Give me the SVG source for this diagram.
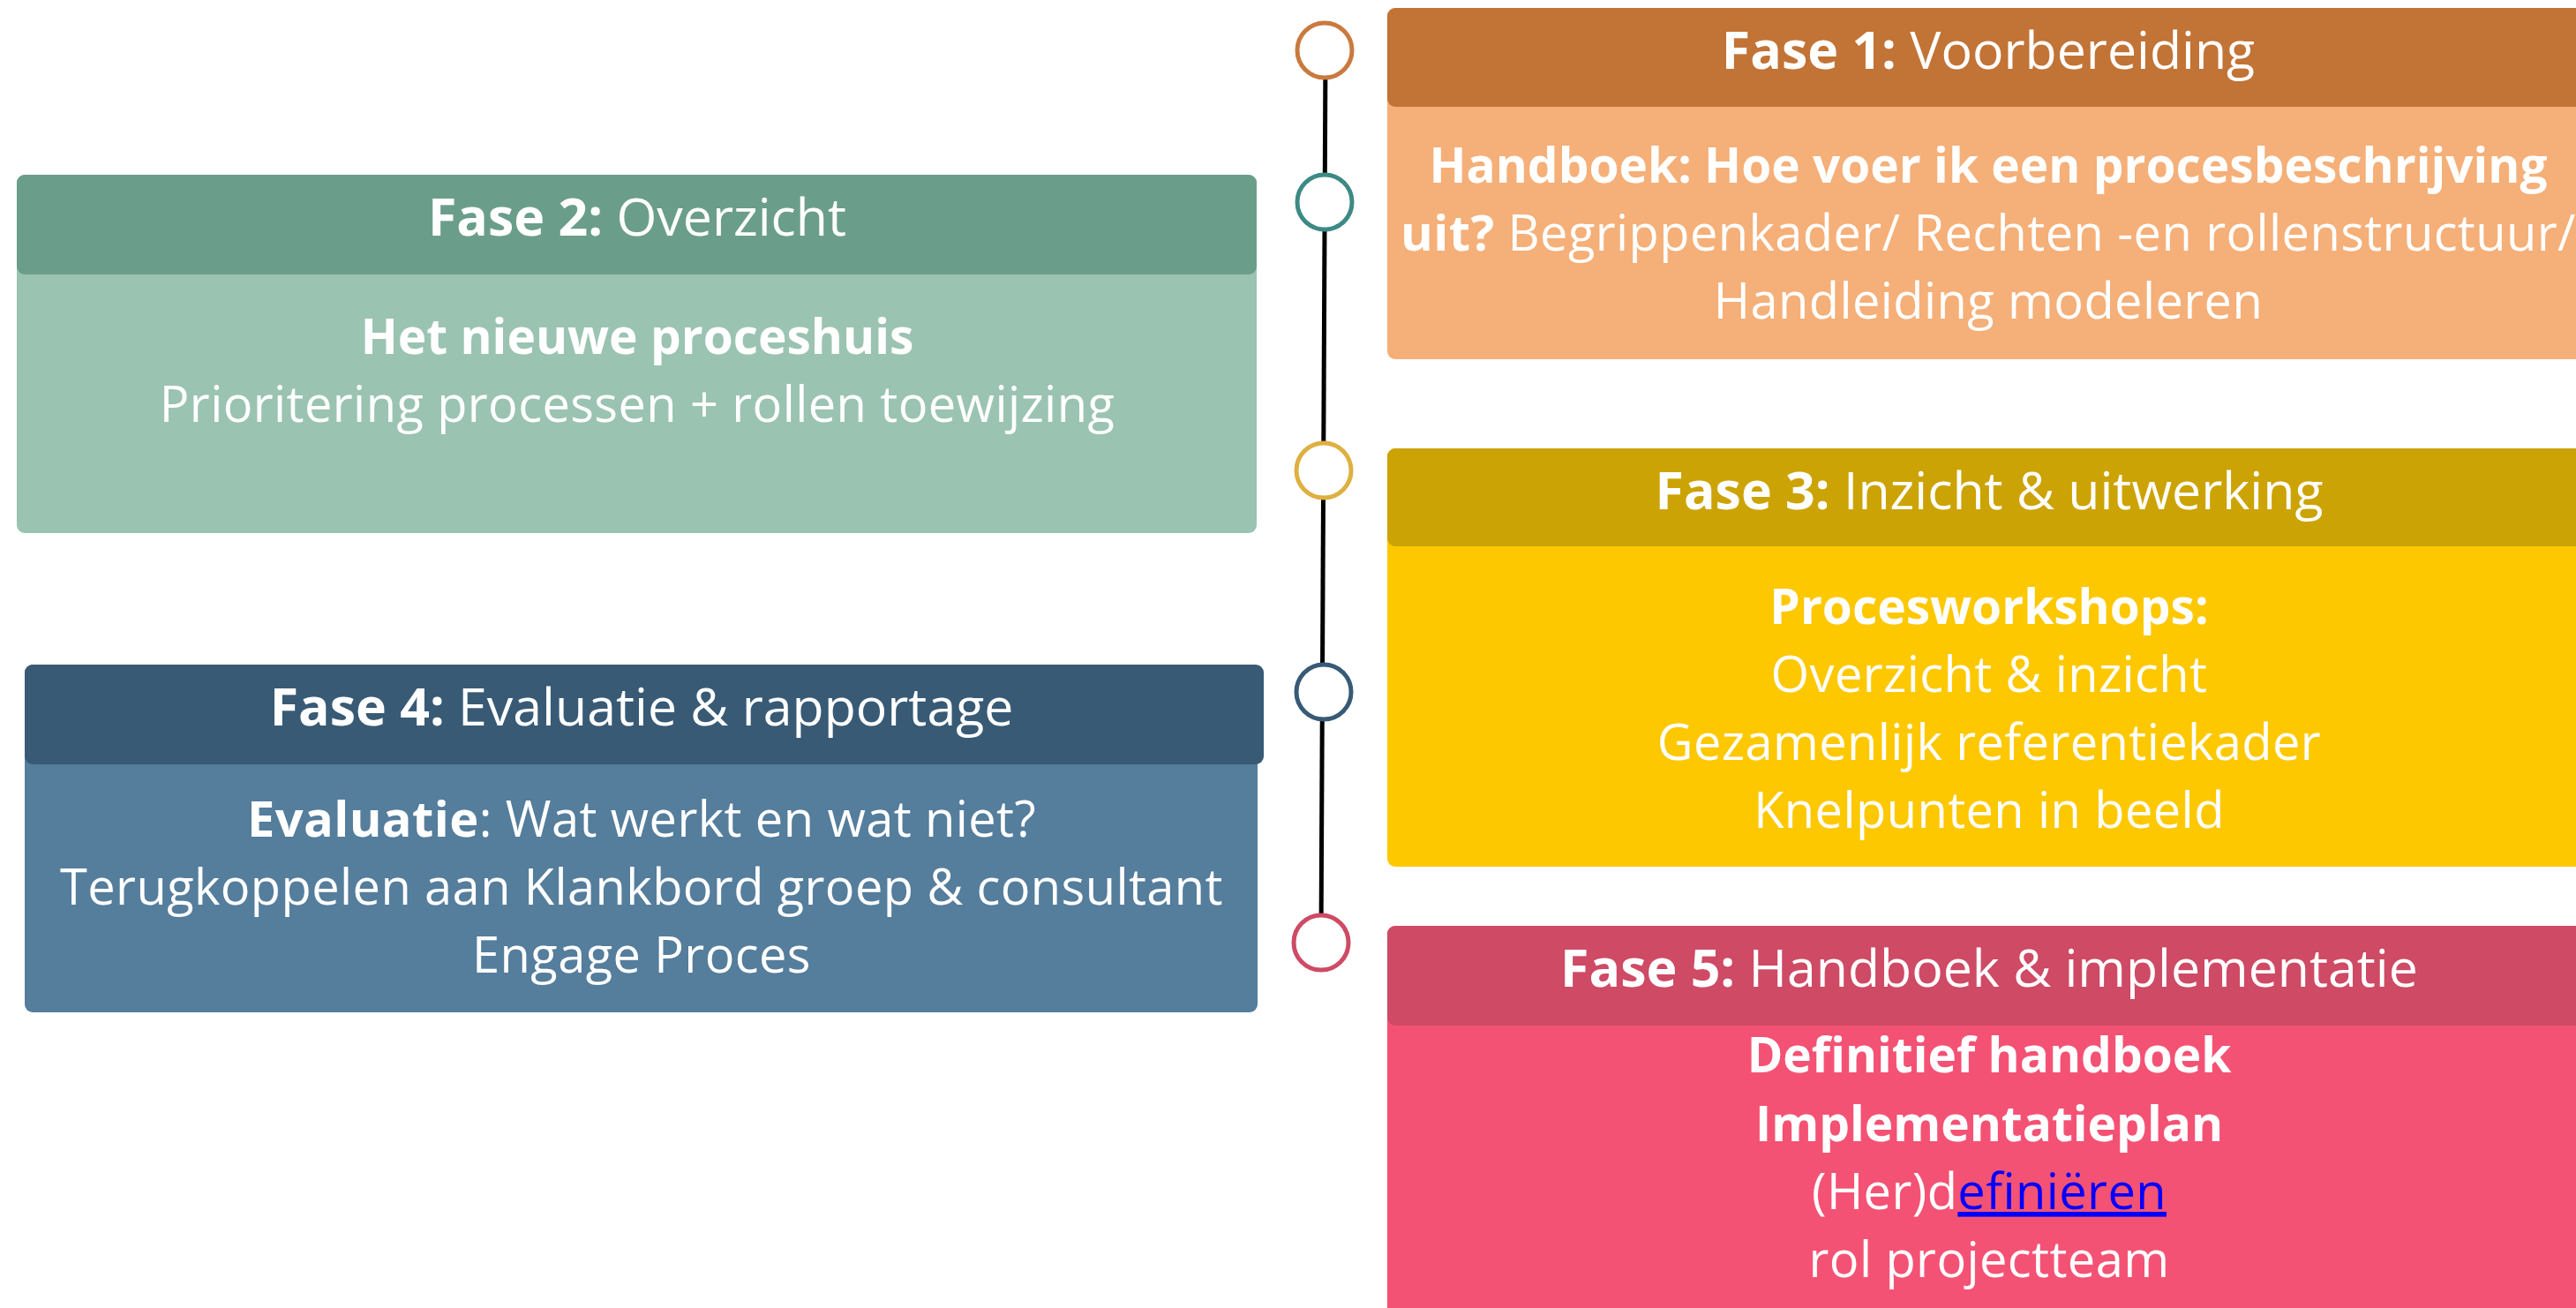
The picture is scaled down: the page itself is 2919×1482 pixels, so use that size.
<svg xmlns="http://www.w3.org/2000/svg" width="2919" height="1482" viewBox="0 0 2919 1482">
<style>
text{font-family:"Open Sans",Lato,"Liberation Sans",sans-serif;fill:#ffffff;text-anchor:middle;font-variant-ligatures:none}
.h{font-size:59px}
.b{font-size:56px;letter-spacing:0.4px}
.bold{font-weight:bold}
.bb{font-size:55px;font-weight:bold;letter-spacing:0}
.node circle{fill:#ffffff;stroke-width:5}
</style>
<rect width="2919" height="1482" fill="#ffffff"/>
<g id="connectors">
<line x1="1502" y1="57" x2="1497" y2="1068" stroke="#000000" stroke-width="5"/>
</g>
<g id="dots" class="node">
<circle cx="1501" cy="57" r="31" stroke="#C97A3F"/>
<circle cx="1501" cy="229" r="31" stroke="#3D8A85"/>
<circle cx="1500" cy="533" r="31" stroke="#DDB040"/>
<circle cx="1500" cy="784" r="31" stroke="#385A75"/>
<circle cx="1497" cy="1068" r="31" stroke="#CE4A65"/>
</g>
<g id="fase1">
<rect x="1572" y="9" width="1400" height="398" rx="9" fill="#F5AF78"/>
<rect x="1572" y="9" width="1400" height="112" rx="9" fill="#C27336"/>
<text class="h" x="2253" y="78"><tspan class="bold">Fase 1:</tspan> Voorbereiding</text>
<text class="bb" x="2253" y="207">Handboek: Hoe voer ik een procesbeschrijving</text>
<text class="b" x="2253" y="284"><tspan class="bold">uit?</tspan> Begrippenkader/ Rechten -en rollenstructuur/</text>
<text class="b" x="2253" y="361">Handleiding modeleren</text>
</g>
<g id="fase2">
<rect x="19" y="198" width="1405" height="406" rx="9" fill="#9BC3B2"/>
<rect x="19" y="198" width="1405" height="113" rx="9" fill="#6B9E8A"/>
<text class="h" x="722" y="267"><tspan class="bold">Fase 2:</tspan> Overzicht</text>
<text class="bb" x="722" y="401">Het nieuwe proceshuis</text>
<text class="b" x="722" y="478">Prioritering processen + rollen toewijzing</text>
</g>
<g id="fase3">
<rect x="1572" y="508" width="1400" height="474" rx="9" fill="#FDC800"/>
<rect x="1572" y="508" width="1400" height="111" rx="9" fill="#CCA304"/>
<text class="h" x="2254" y="577"><tspan class="bold">Fase 3:</tspan> Inzicht &amp; uitwerking</text>
<text class="bb" x="2254" y="707">Procesworkshops:</text>
<text class="b" x="2254" y="784">Overzicht &amp; inzicht</text>
<text class="b" x="2254" y="861">Gezamenlijk referentiekader</text>
<text class="b" x="2254" y="938">Knelpunten in beeld</text>
</g>
<g id="fase4">
<rect x="28" y="753" width="1397" height="394" rx="9" fill="#557D9C"/>
<rect x="28" y="753" width="1404" height="113" rx="9" fill="#385A75"/>
<text class="h" x="727" y="822"><tspan class="bold">Fase 4:</tspan> Evaluatie &amp; rapportage</text>
<text class="b" x="727" y="948"><tspan class="bold">Evaluatie</tspan>: Wat werkt en wat niet?</text>
<text class="b" x="727" y="1025">Terugkoppelen aan Klankbord groep &amp; consultant</text>
<text class="b" x="727" y="1102">Engage Proces</text>
</g>
<g id="fase5">
<rect x="1572" y="1049" width="1400" height="480" rx="9" fill="#F45274"/>
<rect x="1572" y="1049" width="1400" height="113" rx="9" fill="#CE4A65"/>
<text class="h" x="2254" y="1118"><tspan class="bold">Fase 5:</tspan> Handboek &amp; implementatie</text>
<text class="bb" x="2254" y="1215">Definitief handboek</text>
<text class="bb" x="2254" y="1293">Implementatieplan</text>
<text class="b" x="2254" y="1370">(Her)d<tspan fill="#0000FF" text-decoration="underline" style="fill:#0000FF">efiniëren</tspan></text>
<text class="b" x="2254" y="1447">rol projectteam</text>
</g>
</svg>
